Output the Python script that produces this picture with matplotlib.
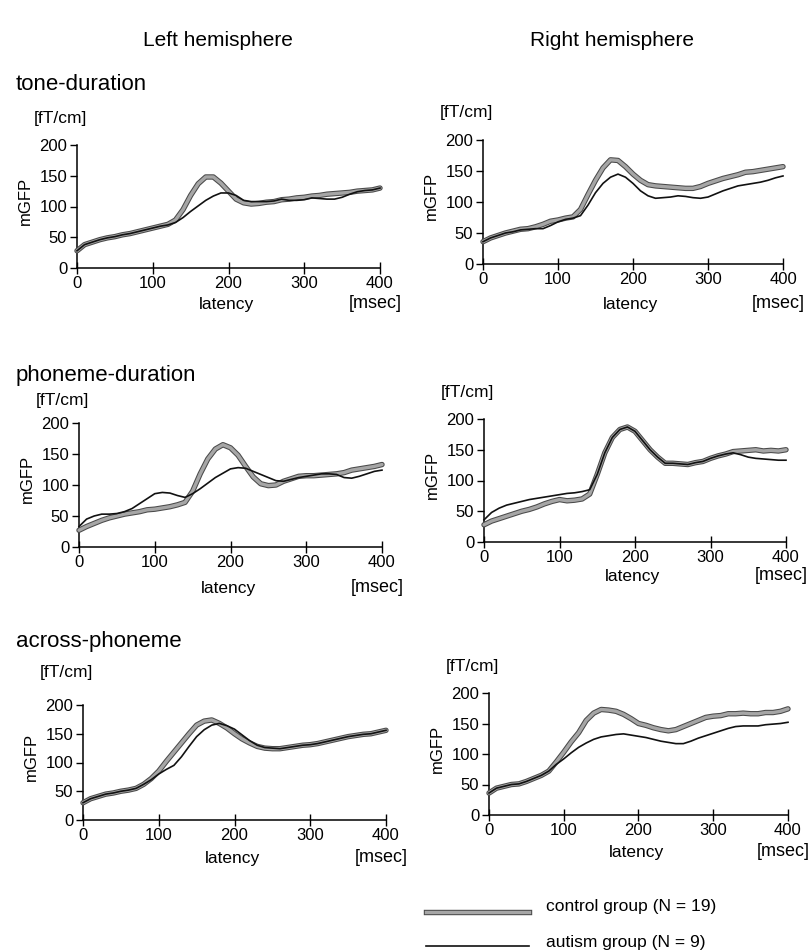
import numpy as np
import matplotlib
matplotlib.use('Agg')
import matplotlib.pyplot as plt
import matplotlib.patheffects as pe
from matplotlib.lines import Line2D

plt.rcParams['font.family'] = ['Liberation Sans', 'DejaVu Sans']

# latency samples [msec]
t = np.arange(0, 401, 10)

# tone-duration
tone_L_ctrl = [28, 38, 42, 46, 49, 51, 54, 56, 59, 62, 65, 68, 71, 78, 95, 118, 137, 148, 148, 138, 125,
               112, 106, 104, 105, 107, 108, 111, 112, 114, 115, 117, 118, 120, 121, 122, 123, 125, 126, 127, 130]
tone_L_aut = [28, 38, 42, 46, 49, 51, 54, 56, 59, 62, 65, 68, 70, 74, 82, 92, 101, 110, 117, 122, 122,
              118, 110, 108, 108, 108, 109, 112, 110, 110, 111, 114, 113, 112, 112, 115, 120, 124, 126, 127, 130]
tone_R_ctrl = [36, 42, 46, 50, 53, 56, 57, 60, 64, 69, 71, 74, 76, 88, 112, 135, 155, 168, 167, 157, 145,
               135, 128, 126, 125, 124, 123, 122, 122, 125, 130, 134, 138, 141, 144, 148, 149, 151, 153, 155, 157]
tone_R_aut = [36, 42, 46, 50, 52, 55, 56, 57, 57, 62, 68, 72, 74, 78, 95, 115, 130, 140, 145, 140, 130,
              118, 110, 106, 107, 108, 110, 109, 107, 106, 108, 113, 118, 122, 126, 128, 130, 132, 135, 139, 142]

# phoneme-duration
phon_L_ctrl = [27, 33, 38, 43, 47, 50, 53, 55, 57, 60, 61, 63, 65, 68, 72, 90, 118, 142, 158, 165, 160,
               148, 130, 113, 102, 99, 100, 106, 110, 114, 115, 115, 116, 117, 118, 120, 124, 126, 128, 130, 133]
phon_L_aut = [33, 45, 50, 53, 53, 54, 57, 62, 70, 78, 86, 88, 87, 83, 80, 86, 94, 103, 112, 119, 126,
              128, 127, 122, 117, 112, 107, 106, 109, 112, 114, 116, 118, 118, 117, 112, 111, 114, 118, 122, 124]
phon_R_ctrl = [28, 34, 38, 42, 46, 50, 53, 57, 62, 66, 69, 67, 68, 70, 78, 110, 145, 170, 183, 187, 180,
               165, 150, 138, 128, 128, 127, 126, 129, 131, 136, 140, 143, 147, 148, 149, 150, 148, 149, 148, 150]
phon_R_aut = [36, 48, 55, 60, 63, 66, 69, 71, 73, 75, 77, 79, 80, 82, 85, 110, 145, 170, 183, 187, 180,
              165, 150, 138, 128, 128, 127, 126, 129, 131, 136, 140, 143, 145, 142, 138, 136, 135, 134, 133, 133]

# across-phoneme
acr_L_ctrl = [30, 37, 41, 45, 47, 50, 52, 55, 62, 72, 85, 102, 118, 134, 150, 165, 172, 174, 168, 160, 150,
              141, 134, 128, 125, 124, 124, 126, 128, 130, 131, 133, 136, 139, 142, 145, 147, 149, 150, 153, 156]
acr_L_aut = [30, 37, 41, 45, 47, 50, 52, 55, 62, 70, 80, 88, 95, 110, 128, 145, 157, 165, 168, 164, 158,
             148, 138, 130, 126, 125, 124, 126, 128, 130, 131, 133, 136, 139, 142, 145, 147, 149, 150, 153, 156]
acr_R_ctrl = [36, 44, 47, 50, 51, 55, 60, 65, 72, 87, 103, 120, 135, 155, 167, 173, 172, 170, 165, 158, 150,
              147, 143, 140, 138, 140, 145, 150, 155, 160, 162, 163, 166, 166, 167, 166, 166, 168, 168, 170, 174]
acr_R_aut = [36, 44, 47, 50, 51, 55, 60, 65, 72, 83, 92, 102, 111, 118, 124, 128, 130, 132, 133, 131, 129,
             127, 124, 121, 119, 117, 117, 121, 126, 130, 134, 138, 142, 145, 146, 146, 146, 148, 149, 150, 152]

W, H = 809, 951
fig = plt.figure(figsize=(W / 100, H / 100), dpi=100)


def fx(x):
    return x / W


def fy(y):
    return 1 - y / H


CTRL_FX = [pe.Stroke(linewidth=3.9, foreground='#4a4a4a'), pe.Normal()]


def ctrl_line(ax, y):
    ax.plot(t, y, color='#a6a6a6', lw=2.4, clip_on=False, solid_capstyle='round', zorder=3,
            path_effects=CTRL_FX)


def aut_line(ax, y):
    ax.plot(t, y, color='#111111', lw=1.2, clip_on=False, zorder=4)


# (x0, x1, ytop, ybottom) in pixels, y of [fT/cm] label, y of latency label
panels = [
    ((77, 380, 145, 268), 118, 305, tone_L_ctrl, tone_L_aut),
    ((483, 783, 140, 264), 113, 304, tone_R_ctrl, tone_R_aut),
    ((79, 382, 423, 547), 400, 588, phon_L_ctrl, phon_L_aut),
    ((484, 786, 419, 542), 393, 576, phon_R_ctrl, phon_R_aut),
    ((83, 386, 705, 820), 672, 858, acr_L_ctrl, acr_L_aut),
    ((489, 788, 693, 815), 667, 852, acr_R_ctrl, acr_R_aut),
]

for (x0, x1, y0, y1), yunit, ylat, yc, ya in panels:
    ax = fig.add_axes([fx(x0), fy(y1), (x1 - x0) / W, (y1 - y0) / H])
    ax.set_xlim(0, 400)
    ax.set_ylim(0, 200)
    ax.spines['top'].set_visible(False)
    ax.spines['right'].set_visible(False)
    ax.spines['left'].set_linewidth(1.1)
    ax.spines['bottom'].set_linewidth(1.1)
    ax.set_xticks([0, 100, 200, 300, 400])
    ax.set_yticks([0, 50, 100, 150, 200])
    ax.tick_params(axis='x', direction='inout', length=9, width=1.0, labelsize=12, pad=1)
    ax.tick_params(axis='y', direction='out', length=5, width=1.0, labelsize=12, pad=2)
    ctrl_line(ax, yc)
    aut_line(ax, ya)
    ax.set_facecolor('none')
    fig.text(fx(x0 - 52), fy(y0 + 0.455 * (y1 - y0)), 'mGFP', rotation=90,
             ha='center', va='center', fontsize=12)
    fig.text(fx((x0 + x1) / 2 - 2), fy(ylat), 'latency', ha='center', va='center', fontsize=12.5)
    fig.text(fx(x1 - 5), fy(ylat - 1), '[msec]', ha='center', va='center', fontsize=13)
    fig.text(fx(x0 - 43), fy(yunit), '[fT/cm]', ha='left', va='center', fontsize=12.5)

fig.text(fx(218), fy(40), 'Left hemisphere', ha='center', va='center', fontsize=15)
fig.text(fx(612), fy(40), 'Right hemisphere', ha='center', va='center', fontsize=15)
fig.text(fx(16), fy(85), 'tone-duration', ha='left', va='center', fontsize=16)
fig.text(fx(16), fy(376), 'phoneme-duration', ha='left', va='center', fontsize=16)
fig.text(fx(16), fy(641), 'across-phoneme', ha='left', va='center', fontsize=16)

# legend
fig.add_artist(Line2D([fx(426), fx(529)], [fy(912), fy(912)], color='#a6a6a6', lw=2.4,
                      path_effects=CTRL_FX))
fig.add_artist(Line2D([fx(426), fx(529)], [fy(946), fy(946)], color='#111111', lw=1.2))
fig.text(fx(546), fy(907), 'control group (N = 19)', ha='left', va='center', fontsize=12.5)
fig.text(fx(546), fy(942), 'autism group (N = 9)', ha='left', va='center', fontsize=12.5)

plt.savefig('out.png', dpi=100)
